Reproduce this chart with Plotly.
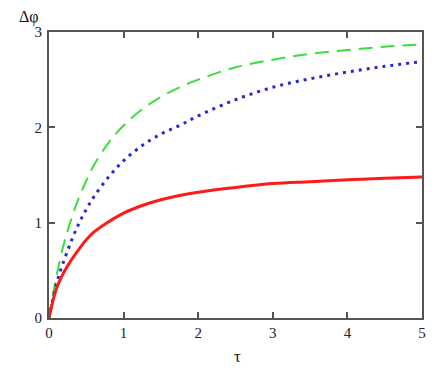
import plotly.graph_objects as go

tau = [0, 0.1, 0.2, 0.3, 0.4, 0.5, 0.6, 0.8, 1.0, 1.25, 1.5, 1.75, 2.0, 2.5, 3.0, 3.5, 4.0, 4.5, 5.0]
red_vals = [0, 0.31, 0.48, 0.61, 0.72, 0.82, 0.90, 1.01, 1.10, 1.18, 1.24, 1.285, 1.32, 1.37, 1.41, 1.43, 1.45, 1.465, 1.48]
green_vals = [0, 0.44, 0.78, 1.04, 1.26, 1.44, 1.60, 1.84, 2.02, 2.19, 2.32, 2.42, 2.50, 2.63, 2.71, 2.77, 2.81, 2.845, 2.87]
blue_vals = [0, 0.36, 0.60, 0.81, 0.99, 1.14, 1.27, 1.48, 1.65, 1.81, 1.93, 2.02, 2.12, 2.29, 2.42, 2.51, 2.58, 2.64, 2.69]
x_ticks = [0, 1, 2, 3, 4, 5]
y_ticks = [0, 1, 2, 3]

fig = go.Figure()
fig.add_trace(go.Scatter(x=tau, y=green_vals, mode="lines", line=dict(color="#3ddd3d", width=2, dash="14px,8px", shape="spline")))
fig.add_trace(go.Scatter(x=tau, y=blue_vals, mode="lines", line=dict(color="#2a2acc", width=3, dash="3px,5px", shape="spline")))
fig.add_trace(go.Scatter(x=tau, y=red_vals, mode="lines", line=dict(color="#ff1a1a", width=3, shape="spline")))

font = dict(family="Liberation Serif, Times New Roman, serif", size=15, color="#222")
axis_common = dict(showgrid=False, zeroline=False, showline=True, linecolor="#555", linewidth=2,
                   mirror="ticks", ticks="inside", ticklen=6, tickwidth=1.5, tickcolor="#555",
                   tickfont=font)
fig.update_xaxes(range=[0, 5], tickvals=x_ticks, ticktext=[str(v) for v in x_ticks], **axis_common)
fig.update_yaxes(range=[0, 3], tickvals=y_ticks, ticktext=[str(v) for v in y_ticks], ticklabelstandoff=2, **axis_common)

# page body has an 8px margin, so the figure is offset by (8, 8)
W, H = 431, 369
L, R, T, B = 41, 17, 24, 59
fig.update_layout(
    width=W, height=H, showlegend=False,
    margin=dict(l=L, r=R, t=T, b=B),
    plot_bgcolor="white", paper_bgcolor="white",
)
plot_w = W - L - R
plot_h = H - T - B


def px_to_paper(px, py):
    # px, py in page pixels of the target picture
    return (px - 8 - L) / plot_w, (H - B - (py - 8)) / plot_h


ax, ay = px_to_paper(29, 17)
tx, ty = px_to_paper(237, 356)
fig.add_annotation(text="Δφ", x=ax, y=ay, xref="paper", yref="paper", showarrow=False,
                   xanchor="center", yanchor="middle",
                   font=dict(family="Liberation Serif, serif", size=16, color="#111"))
fig.add_annotation(text="τ", x=tx, y=ty, xref="paper", yref="paper", showarrow=False,
                   xanchor="center", yanchor="middle",
                   font=dict(family="Liberation Serif, serif", size=17, color="#111"))

fig.write_html("out.html")
